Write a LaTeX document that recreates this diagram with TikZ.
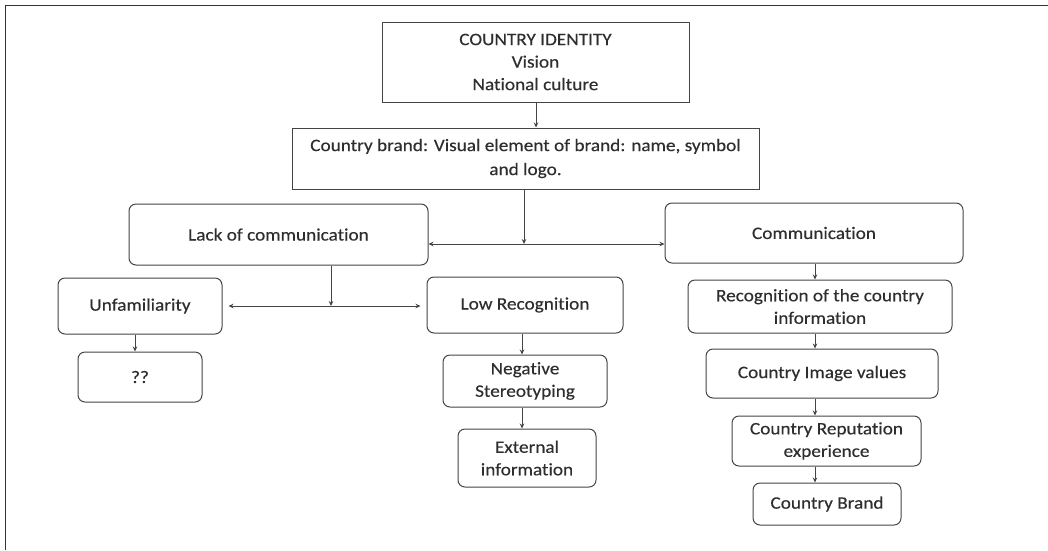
\documentclass[tikz,border=0pt]{standalone}
\usepackage{fontspec}
\setmainfont{Carlito}[FakeStretch=1.1,FakeBold=0.35,Ligatures=NoCommon]
\usetikzlibrary{arrows.meta}
\definecolor{txt}{HTML}{2E2E2E}
\definecolor{edge}{HTML}{444444}
\begin{document}
\begin{tikzpicture}[x=1pt,y=-1pt,
  base/.style={draw=edge,line width=1pt,text=txt,align=center,inner sep=2pt,
    font=\fontsize{17.5}{22.5}\selectfont},
  sharpbox/.style={base},
  roundbox/.style={base,rounded corners=7pt},
  arr/.style={draw=edge,line width=0.8pt,-{Stealth[length=5pt,width=4.5pt]}},
  darr/.style={draw=edge,line width=0.8pt,{Stealth[length=5pt,width=4.5pt]}-{Stealth[length=5pt,width=4.5pt]}}]
\useasboundingbox (0,0) rectangle (1048,550);
\draw[line width=1.5pt,draw=black!80] (5.5,550) -- (5.5,5.5) -- (1048,5.5);

\node[sharpbox,minimum width=307pt,minimum height=80pt] (ident) at (535.5,62) {COUNTRY IDENTITY\\Vision\\National culture};
\node[sharpbox,minimum width=467pt,minimum height=61pt,font=\fontsize{17.5}{24}\selectfont] (brand) at (525.5,158.5) {Country brand: Visual element of brand: name, symbol\\and logo.};
\node[roundbox,minimum width=299pt,minimum height=61pt] (lack) at (278.5,234.5) {Lack of communication};
\node[roundbox,minimum width=298pt,minimum height=60pt] (comm) at (814,233) {Communication};
\node[roundbox,minimum width=164pt,minimum height=56pt] (unfam) at (140,306) {Unfamiliarity};
\node[roundbox,minimum width=196pt,minimum height=56pt] (lowrec) at (525,305) {Low Recognition};
\node[roundbox,minimum width=124pt,minimum height=50pt] (qq) at (140,377) {??};
\node[roundbox,minimum width=164pt,minimum height=52pt] (neg) at (525,381) {Negative\\Stereotyping};
\node[roundbox,minimum width=138pt,minimum height=58pt] (ext) at (527,458) {External\\information};
\node[roundbox,minimum width=264pt,minimum height=53pt] (recog) at (820,306.5) {Recognition of the country\\information};
\node[roundbox,minimum width=232pt,minimum height=49pt] (image) at (822,373.5) {Country Image values};
\node[roundbox,minimum width=189pt,minimum height=50pt] (rep) at (826.5,441) {Country Reputation\\experience};
\node[roundbox,minimum width=148pt,minimum height=42pt] (cbrand) at (827,504) {Country Brand};

\coordinate (j1) at (524,244);
\coordinate (j2) at (331,306);

\draw[arr] (ident.south -| 536,0) -- (brand.north -| 536,0);
\draw[arr] (brand.south -| j1) -- (j1);
\draw[darr] (lack.east |- j1) -- (comm.west |- j1);
\draw[arr] (lack.south -| j2) -- (j2);
\draw[darr,shorten <=6pt,shorten >=6pt] (unfam.east |- j2) -- (lowrec.west |- j2);
\draw[arr] (unfam.south -| 135,0) -- (qq.north -| 135,0);
\draw[arr] (lowrec.south -| 522,0) -- (neg.north -| 522,0);
\draw[arr] (neg.south -| 522,0) -- (ext.north -| 522,0);
\draw[arr] (comm.south -| 815,0) -- (recog.north -| 815,0);
\draw[arr] (recog.south -| 815,0) -- (image.north -| 815,0);
\draw[arr] (image.south -| 815,0) -- (rep.north -| 815,0);
\draw[arr] (rep.south -| 815,0) -- (cbrand.north -| 815,0);
\end{tikzpicture}
\end{document}
